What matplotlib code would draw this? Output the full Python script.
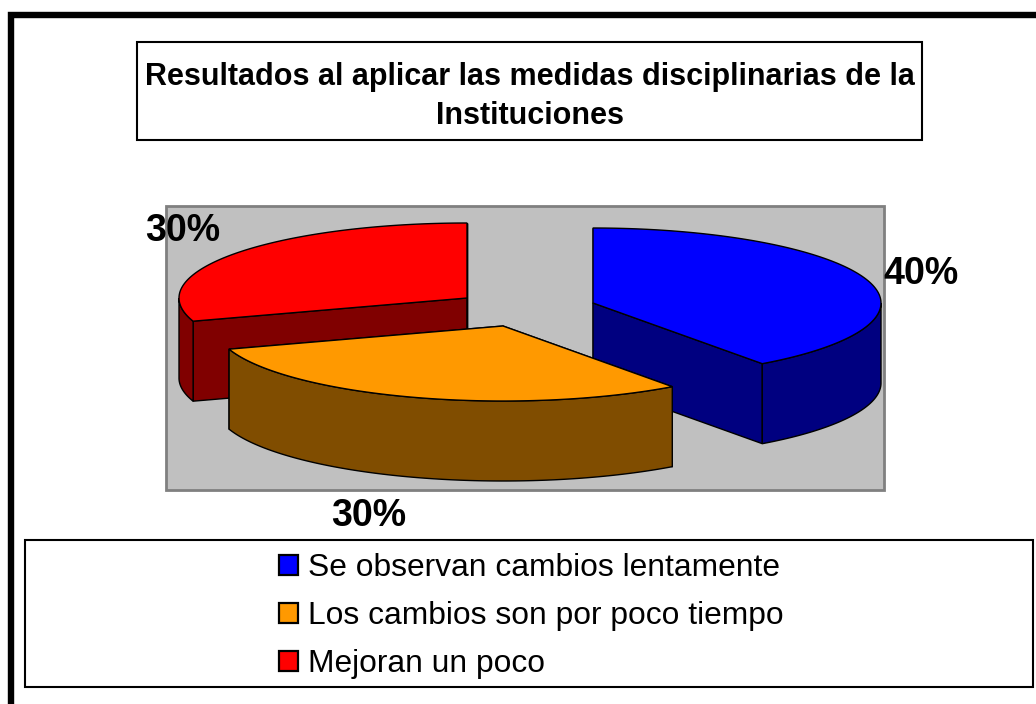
import numpy as np
import matplotlib
matplotlib.use('Agg')
import matplotlib.pyplot as plt
from matplotlib.patches import Polygon, Rectangle

plt.rcParams['font.family'] = ['Liberation Sans', 'DejaVu Sans']

title = 'Resultados al aplicar las medidas disciplinarias de la\nInstituciones'
categories = ['Se observan cambios lentamente', 'Los cambios son por poco tiempo', 'Mejoran un poco']
values = [40, 30, 30]
labels = ['40%', '30%', '30%']
top_colors = ['#0000FF', '#FF9900', '#FF0000']
side_colors = ['#000080', '#804D00', '#800000']

# apex of each exploded slice, in pixels
centers = [(593, 303), (503, 326), (467, 298)]
rx, ry, depth = 288, 75, 80
label_pos = [(921, 274), (369, 516), (183, 231)]


def rim(cx, cy, a0, a1, dy=0):
    # angles clockwise from 12 o'clock
    t = np.radians(np.linspace(a0, a1, 120))
    return np.column_stack([cx + rx * np.sin(t), cy - ry * np.cos(t) + dy])


def draw_slice(ax, center, a0, a1, top, side):
    cx, cy = center
    # flat cut faces first
    for a in (a0, a1):
        p = rim(cx, cy, a, a, 0)[0]
        ax.add_patch(Polygon([(cx, cy), p, p + (0, depth), (cx, cy + depth)],
                             fc=side, ec='black', lw=1))
    # outer wall, only the front half of the ellipse shows
    w0, w1 = max(a0, 90), min(a1, 270)
    if w1 > w0:
        upper = rim(cx, cy, w0, w1)
        lower = rim(cx, cy, w0, w1, depth)[::-1]
        ax.add_patch(Polygon(np.vstack([upper, lower]), fc=side, ec='black', lw=1))
    ax.add_patch(Polygon(np.vstack([[(cx, cy)], rim(cx, cy, a0, a1)]),
                         fc=top, ec='black', lw=1))


fig = plt.figure(figsize=(10.36, 7.04), dpi=100)
ax = fig.add_axes([0, 0, 1, 1])
ax.set_xlim(0, 1036)
ax.set_ylim(704, 0)
ax.axis('off')

# outer chart frame, right and bottom run off the image
ax.add_patch(Rectangle((11, 15), 1040, 720, fc='white', ec='black', lw=4.6))

# title box
ax.add_patch(Rectangle((136.5, 42), 785, 98, fc='white', ec='black', lw=1.5))
ax.text(530, 96.5, title, ha='center', va='center', fontsize=22, fontweight='bold',
        linespacing=1.42)

# plot area
ax.add_patch(Rectangle((166, 206), 718, 284, fc='#C0C0C0', ec='#808080', lw=2))

ends = np.cumsum(values) / np.sum(values) * 360
starts = np.concatenate([[0], ends[:-1]])
# orange sits in front of both neighbours
for i in [0, 2, 1]:
    draw_slice(ax, centers[i], starts[i], ends[i], top_colors[i], side_colors[i])

for lab, (x, y) in zip(labels, label_pos):
    ax.text(x, y, lab, ha='center', va='center', fontsize=27, fontweight='bold')

# legend
ax.add_patch(Rectangle((25, 539.5), 1008, 147.5, fc='white', ec='black', lw=1.5))
for i, name in enumerate(categories):
    y = 565 + i * 48
    ax.add_patch(Rectangle((279, y - 10), 18.5, 19.5, fc=top_colors[i], ec='black', lw=1.6))
    ax.text(308, y + 3, name, ha='left', va='center', fontsize=22.9)

fig.savefig('out.png', dpi=100)
